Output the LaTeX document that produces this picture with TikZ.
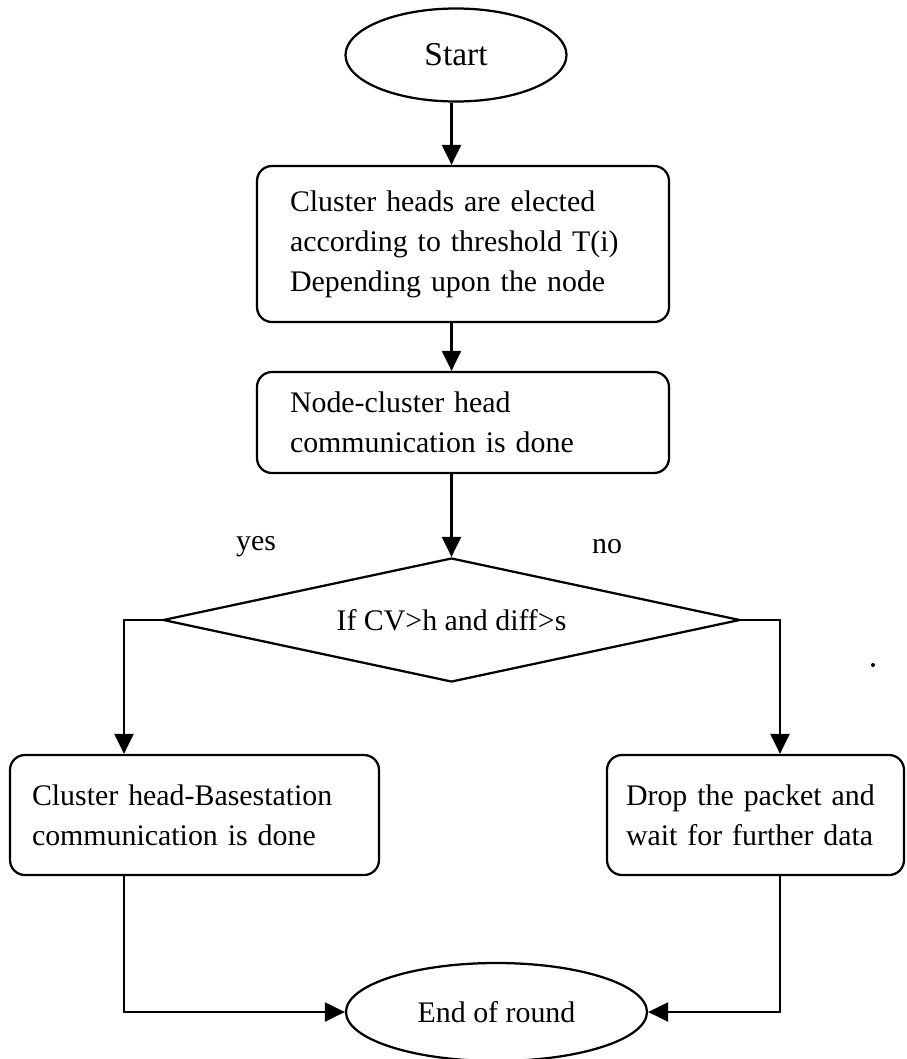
\documentclass[tikz,border=0pt]{standalone}
\usepackage{fontspec}
\setmainfont{Liberation Serif}
\usetikzlibrary{shapes.geometric,arrows.meta}
\begin{document}
\begin{tikzpicture}[node distance=3.5cm, auto, line width=0.045cm,
	>={Triangle[length=0.4cm,width=0.38cm]},
	box/.style={draw, rounded corners=0.3cm, align=left, font=\fontsize{17}{22.8}\selectfont},
	term/.style={draw, ellipse, inner sep=0pt},
	test/.style={draw, diamond, inner sep=0pt, aspect=4.65, font=\fontsize{17}{22.8}\selectfont}]
	\useasboundingbox (0,0) rectangle (18.12,-21.18);
	\node (1) [term, minimum width=4.42cm, minimum height=1.86cm, font=\fontsize{19}{23}\selectfont] at (9.12,-1.1) {Start};
	\node (2) [box, below of=1, node distance=3.78cm, xshift=0.14cm, text width=6.92cm, inner xsep=0.66cm, minimum height=3.12cm] {Cluster heads are elected\\according to threshold T(i)\\Depending upon the node};
	\node (3) [box, below of=2, node distance=3.57cm, text width=6.92cm, inner xsep=0.66cm, minimum height=2.02cm] {Node-cluster head\\communication is done};
	\node (4) [test, below of=3, node distance=3.95cm, xshift=-0.23cm, minimum width=11.54cm, minimum height=2.48cm] {If CV>h and diff>s};
	\node (5) [box, below of=4, node distance=3.9cm, xshift=-5.14cm, text width=6.5cm, inner xsep=0.44cm, minimum height=2.4cm] {Cluster head-Basestation\\communication is done};
	\node (6) [box, below of=4, node distance=3.9cm, xshift=6.08cm, text width=5.18cm, inner xsep=0.38cm, minimum height=2.4cm] {Drop the packet and\\wait for further data};
	\node (7) [term, below of=4, node distance=7.84cm, xshift=0.9cm, minimum width=6.02cm, minimum height=1.96cm, font=\fontsize{17}{22.8}\selectfont] {End of round};
	\node (8) [above of=4, node distance=1.46cm, xshift=-3.91cm, font=\fontsize{17}{22.8}\selectfont] {yes};
	\node (9) [above of=4, node distance=1.46cm, xshift=3.11cm, font=\fontsize{17}{22.8}\selectfont] {no};
	\fill (17.46,-13.3) circle (0.04cm);
	
	\draw[->] (4 |- 1.south) -- (4 |- 2.north);
	\draw[->] (4 |- 2.south) -- (4 |- 3.north);
	\draw[->] (4 |- 3.south) -- (4);
	\draw[->] (4.west) -| ([xshift=-1.41cm]5.north);
	\draw[->] (4.east) -| ([xshift=0.49cm]6.north);
	\draw[->] ([xshift=-1.41cm]5.south) |- (7);
	\draw[->] ([xshift=0.49cm]6.south) |- (7);
\end{tikzpicture}
\end{document}
